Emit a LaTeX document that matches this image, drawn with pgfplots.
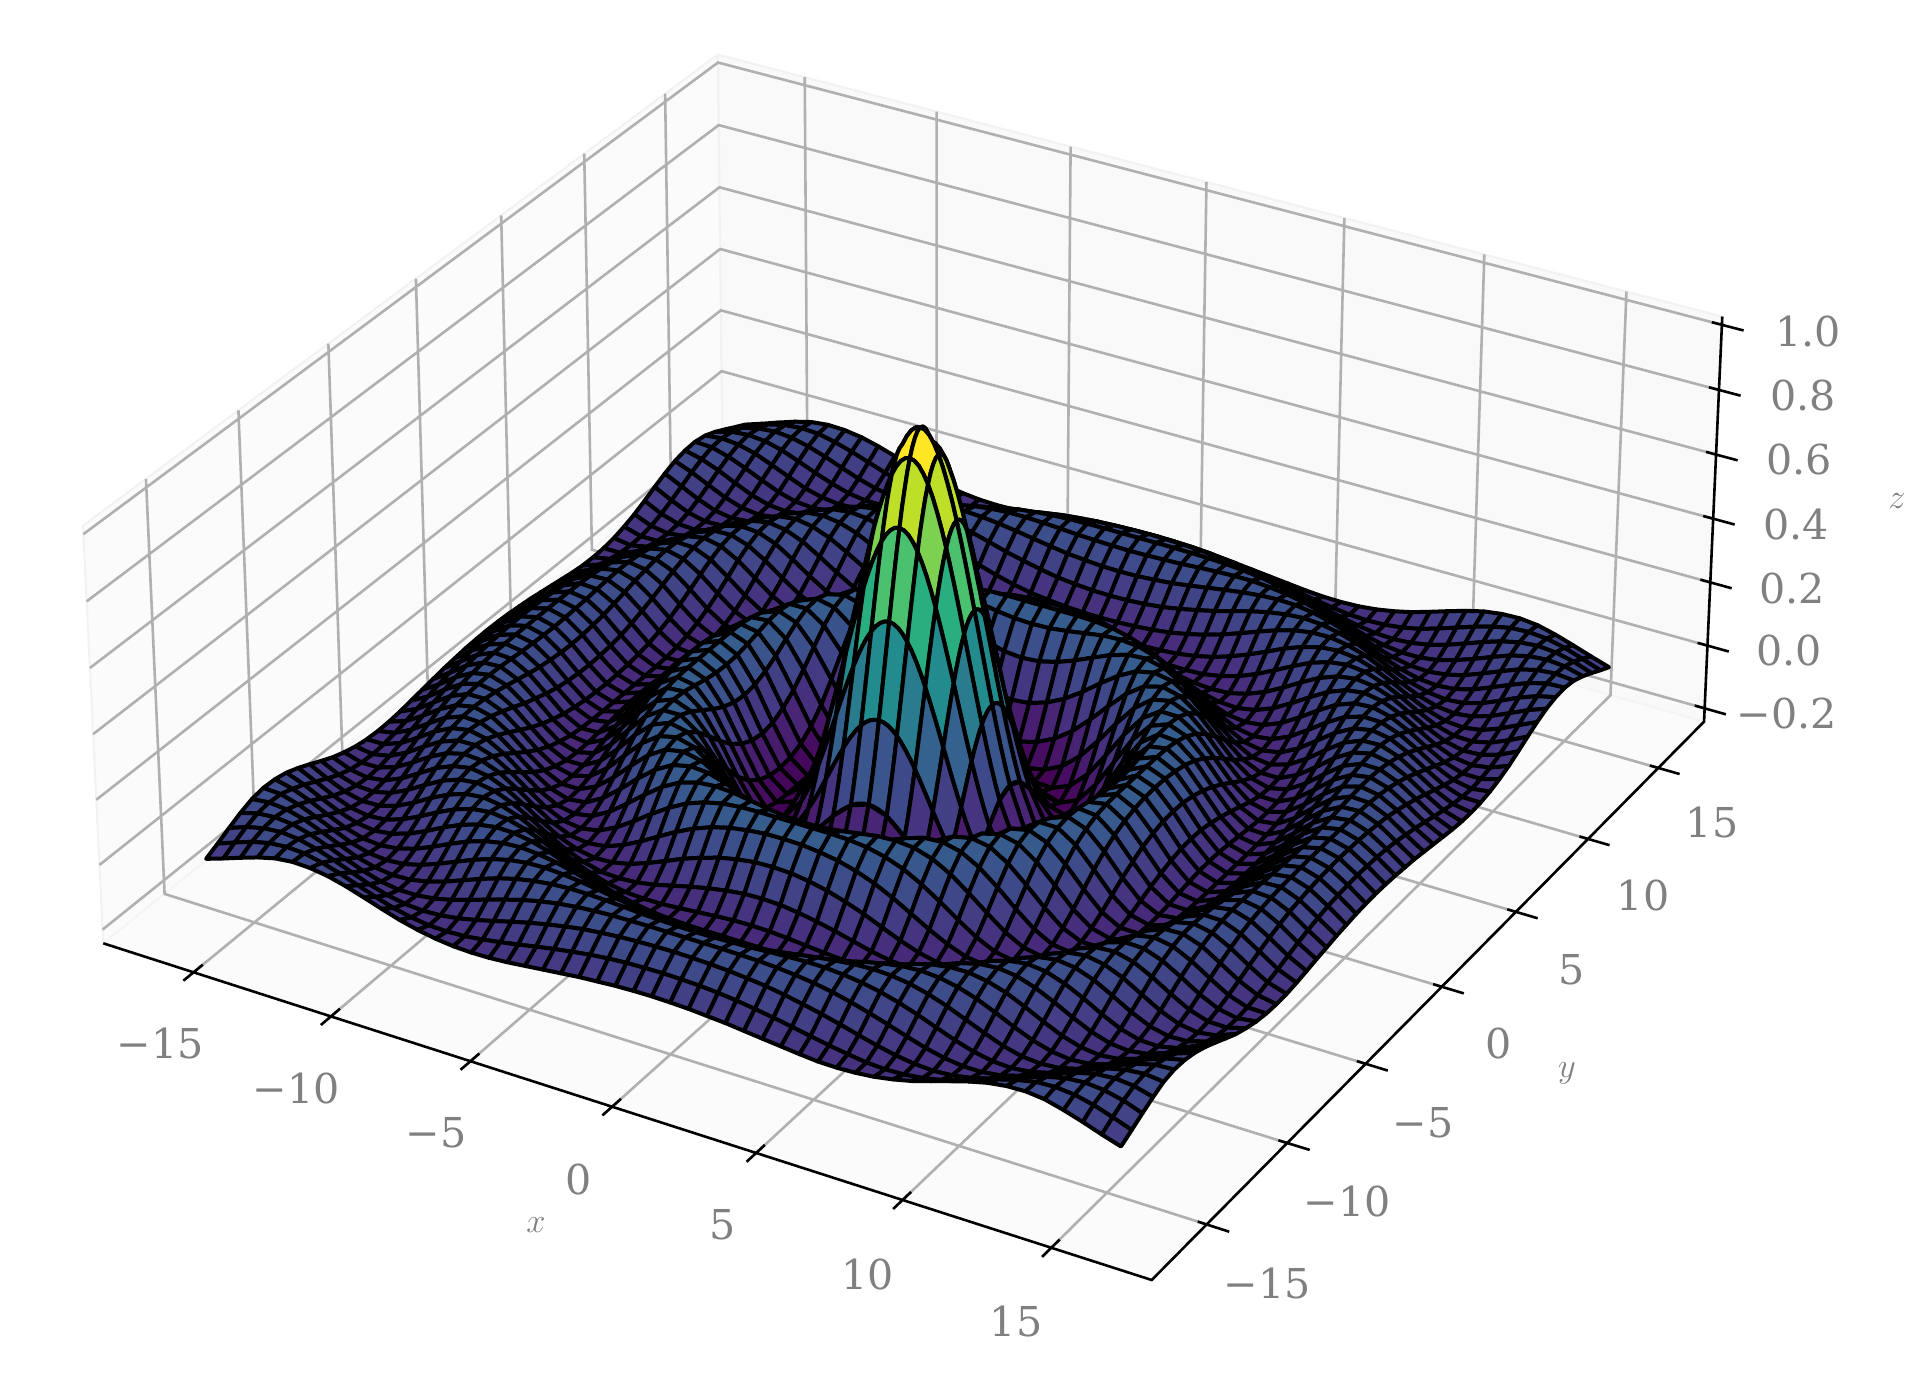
\documentclass[border=0pt]{standalone}
\usepackage{fontspec}
\setmainfont{DejaVu Serif}
\usepackage{pgfplots}
\usepackage{pgfplotstable}
\usepgfplotslibrary{patchplots}
\pgfplotsset{compat=1.18}
\definecolor{tk}{HTML}{808080}
\definecolor{gr}{HTML}{B0B0B0}
% perspective of the reference: data (x,y,z) to picture pixels
\newcommand\DEN[3]{(1.017057-.0015508*(#1)+.0027319*(#2)-.018926*(#3))}
\newcommand\PX[3]{(936.277+26.813*(#1)+18.865*(#2)-17.585*(#3))/\DEN{#1}{#2}{#3}}
\newcommand\PY[3]{1388-(765.77+7.1995*(#1)-12.392*(#2)-339.33*(#3))/\DEN{#1}{#2}{#3}}
% z on the grid |x|=.64 i, |y|=.64 j, i,j=0..25 (row j, 26 values per row); the surface is symmetric in x and y
\pgfplotstableread[row sep=\\]{z\\
1\\.933\\.748\\.489\\.215\\-.018\\-.168\\-.217\\-.179\\-.087\\.018\\.098\\.128\\.107\\.050\\-.018\\-.071\\-.091\\-.075\\-.032\\.018\\.057\\.071\\.057\\.022\\-.018\\
.933\\.869\\.692\\.444\\.183\\-.037\\-.175\\-.217\\-.175\\-.081\\.023\\.100\\.128\\.106\\.048\\-.020\\-.072\\-.091\\-.074\\-.031\\.019\\.058\\.071\\.056\\.021\\-.019\\
.748\\.692\\.537\\.321\\.097\\-.087\\-.195\\-.214\\-.160\\-.063\\.037\\.107\\.128\\.100\\.040\\-.027\\-.076\\-.091\\-.071\\-.027\\.023\\.060\\.071\\.054\\.019\\-.021\\
.489\\.444\\.321\\.152\\-.018\\-.150\\-.213\\-.203\\-.133\\-.035\\.058\\.116\\.126\\.091\\.028\\-.037\\-.081\\-.090\\-.066\\-.021\\.028\\.062\\.070\\.051\\.015\\-.025\\
.215\\.183\\.097\\-.018\\-.127\\-.199\\-.216\\-.175\\-.093\\.003\\.083\\.125\\.120\\.076\\.011\\-.049\\-.086\\-.088\\-.059\\-.011\\.036\\.066\\.069\\.046\\.009\\-.029\\
-.018\\-.037\\-.087\\-.150\\-.199\\-.217\\-.192\\-.127\\-.040\\.046\\.107\\.128\\.107\\.055\\-.009\\-.063\\-.090\\-.083\\-.048\\.001\\.045\\.069\\.066\\.040\\.001\\-.035\\
-.168\\-.175\\-.195\\-.213\\-.216\\-.192\\-.139\\-.063\\.018\\.086\\.124\\.123\\.087\\.028\\-.033\\-.077\\-.091\\-.074\\-.034\\.014\\.054\\.071\\.061\\.031\\-.008\\-.041\\
-.217\\-.217\\-.214\\-.203\\-.175\\-.127\\-.063\\.008\\.073\\.116\\.128\\.106\\.057\\-.003\\-.056\\-.087\\-.088\\-.061\\-.017\\.030\\.062\\.071\\.054\\.020\\-.018\\-.047\\
-.179\\-.175\\-.160\\-.133\\-.093\\-.040\\.018\\.073\\.113\\.128\\.115\\.076\\.021\\-.035\\-.076\\-.091\\-.078\\-.043\\.003\\.045\\.068\\.067\\.044\\.008\\-.029\\-.053\\
-.087\\-.081\\-.063\\-.035\\.003\\.046\\.086\\.116\\.128\\.118\\.084\\.035\\-.018\\-.063\\-.088\\-.088\\-.062\\-.021\\.024\\.058\\.071\\.060\\.031\\-.006\\-.039\\-.057\\
.018\\.023\\.037\\.058\\.083\\.107\\.124\\.128\\.115\\.084\\.040\\-.009\\-.054\\-.084\\-.091\\-.074\\-.039\\.004\\.044\\.067\\.069\\.049\\.015\\-.021\\-.048\\-.058\\
.098\\.100\\.107\\.116\\.125\\.128\\.123\\.106\\.076\\.035\\-.009\\-.051\\-.081\\-.091\\-.081\\-.052\\-.011\\.030\\.060\\.071\\.061\\.034\\-.002\\-.035\\-.055\\-.056\\
.128\\.128\\.128\\.126\\.120\\.107\\.087\\.057\\.021\\-.018\\-.054\\-.081\\-.091\\-.084\\-.059\\-.022\\.018\\.051\\.069\\.067\\.047\\.015\\-.020\\-.047\\-.058\\-.050\\
.107\\.106\\.100\\.091\\.076\\.055\\.028\\-.003\\-.035\\-.063\\-.084\\-.091\\-.084\\-.061\\-.027\\.011\\.045\\.066\\.070\\.056\\.028\\-.006\\-.037\\-.055\\-.056\\-.040\\
.050\\.048\\.040\\.028\\.011\\-.009\\-.033\\-.056\\-.076\\-.088\\-.091\\-.081\\-.059\\-.027\\.008\\.041\\.063\\.071\\.061\\.038\\.005\\-.027\\-.050\\-.058\\-.049\\-.027\\
-.018\\-.020\\-.027\\-.037\\-.049\\-.063\\-.077\\-.087\\-.091\\-.088\\-.074\\-.052\\-.022\\.011\\.041\\.062\\.071\\.064\\.044\\.014\\-.018\\-.044\\-.057\\-.054\\-.037\\-.010\\
-.071\\-.072\\-.076\\-.081\\-.086\\-.090\\-.091\\-.088\\-.078\\-.062\\-.039\\-.011\\.018\\.045\\.063\\.071\\.065\\.046\\.019\\-.012\\-.039\\-.055\\-.057\\-.044\\-.020\\.008\\
-.091\\-.091\\-.091\\-.090\\-.088\\-.083\\-.074\\-.061\\-.043\\-.021\\.004\\.030\\.051\\.066\\.071\\.064\\.046\\.020\\-.009\\-.035\\-.053\\-.058\\-.049\\-.028\\-.001\\.025\\
-.075\\-.074\\-.071\\-.066\\-.059\\-.048\\-.034\\-.017\\.003\\.024\\.044\\.060\\.069\\.070\\.061\\.044\\.019\\-.009\\-.034\\-.051\\-.058\\-.051\\-.033\\-.008\\.018\\.039\\
-.032\\-.031\\-.027\\-.021\\-.011\\.001\\.014\\.030\\.045\\.058\\.067\\.071\\.067\\.056\\.038\\.014\\-.012\\-.035\\-.051\\-.058\\-.053\\-.037\\-.013\\.013\\.034\\.047\\
.018\\.019\\.023\\.028\\.036\\.045\\.054\\.062\\.068\\.071\\.069\\.061\\.047\\.028\\.005\\-.018\\-.039\\-.053\\-.058\\-.053\\-.038\\-.015\\.009\\.031\\.046\\.049\\
.057\\.058\\.060\\.062\\.066\\.069\\.071\\.071\\.067\\.060\\.049\\.034\\.015\\-.006\\-.027\\-.044\\-.055\\-.058\\-.051\\-.037\\-.015\\.008\\.030\\.044\\.049\\.043\\
.071\\.071\\.071\\.070\\.069\\.066\\.061\\.054\\.044\\.031\\.015\\-.002\\-.020\\-.037\\-.050\\-.057\\-.057\\-.049\\-.033\\-.013\\.009\\.030\\.044\\.049\\.044\\.029\\
.057\\.056\\.054\\.051\\.046\\.040\\.031\\.020\\.008\\-.006\\-.021\\-.035\\-.047\\-.055\\-.058\\-.054\\-.044\\-.028\\-.008\\.013\\.031\\.044\\.049\\.044\\.031\\.011\\
.022\\.021\\.019\\.015\\.009\\.001\\-.008\\-.018\\-.029\\-.039\\-.048\\-.055\\-.058\\-.056\\-.049\\-.037\\-.020\\-.001\\.018\\.034\\.046\\.049\\.044\\.031\\.012\\-.008\\
-.018\\-.019\\-.021\\-.025\\-.029\\-.035\\-.041\\-.047\\-.053\\-.057\\-.058\\-.056\\-.050\\-.040\\-.027\\-.010\\.008\\.025\\.039\\.047\\.049\\.043\\.029\\.011\\-.008\\-.026\\
}\zdata
% finer samples along the mesh lines near the peak: row b=0,4,...,20, a=0..20, at |x|=.16 a, |y|=.16 b
\pgfplotstableread[row sep=\\]{z\\
1\\.9957\\.9830\\.9620\\.933\\.8967\\.8533\\.8037\\.7484\\.6885\\.6247\\.5581\\.4894\\.4198\\.3501\\.2814\\.2146\\.1502\\.0898\\.0334\\-.0183\\
.933\\.9290\\.9170\\.8967\\.8689\\.8341\\.7926\\.7448\\.6920\\.6346\\.5736\\.5097\\.4442\\.3779\\.3117\\.2463\\.1828\\.1217\\.0644\\.0113\\-.0372\\
.7484\\.7448\\.7341\\.7164\\.6920\\.6613\\.6247\\.5830\\.5367\\.4866\\.4332\\.3779\\.3212\\.2637\\.2064\\.1502\\.0965\\.0450\\-.0032\\-.0474\\-.0868\\
.4894\\.4866\\.4780\\.4639\\.4442\\.4198\\.3909\\.3576\\.3212\\.2814\\.2395\\.1963\\.1520\\.1081\\.0644\\.0221\\-.0183\\-.0561\\-.0909\\-.1218\\-.1496\\
.2146\\.2123\\.2064\\.1963\\.1828\\.1652\\.1444\\.1217\\.0965\\.0690\\.0405\\.0113\\-.0183\\-.0474\\-.0757\\-.1025\\-.1267\\-.1499\\-.1699\\-.1859\\-.1994\\
-.0183\\-.0195\\-.0231\\-.0290\\-.0372\\-.0474\\-.0593\\-.0727\\-.0868\\-.1025\\-.1181\\-.1336\\-.1496\\-.1642\\-.1773\\-.1892\\-.1994\\-.2075\\-.2134\\-.2167\\-.2171\\
}\finez
\pgfplotstableread{
x y z
-18.33 -18.33 -.2427
-18.33 18.33 -.2427
-18.33 18.33 1.0254
-18.33 -18.33 1.0254
-18.33 -18.33 -.2427
}\paneleft
\pgfplotstableread{
x y z
-18.33 18.33 -.2427
18.33 18.33 -.2427
18.33 18.33 1.0254
-18.33 18.33 1.0254
-18.33 18.33 -.2427
}\paneback
\pgfplotstableread{
x y z
-18.33 -18.33 -.2427
18.33 -18.33 -.2427
18.33 18.33 -.2427
-18.33 18.33 -.2427
-18.33 -18.33 -.2427
}\panefloor
\pgfplotstableread{
x y z
-15 -18.33 -.2427
-15 18.33 -.2427
-15 18.33 1.0254
nan nan nan
-10 -18.33 -.2427
-10 18.33 -.2427
-10 18.33 1.0254
nan nan nan
-5 -18.33 -.2427
-5 18.33 -.2427
-5 18.33 1.0254
nan nan nan
0 -18.33 -.2427
0 18.33 -.2427
0 18.33 1.0254
nan nan nan
5 -18.33 -.2427
5 18.33 -.2427
5 18.33 1.0254
nan nan nan
10 -18.33 -.2427
10 18.33 -.2427
10 18.33 1.0254
nan nan nan
15 -18.33 -.2427
15 18.33 -.2427
15 18.33 1.0254
nan nan nan
18.33 -15 -.2427
-18.33 -15 -.2427
-18.33 -15 1.0254
nan nan nan
18.33 -10 -.2427
-18.33 -10 -.2427
-18.33 -10 1.0254
nan nan nan
18.33 -5 -.2427
-18.33 -5 -.2427
-18.33 -5 1.0254
nan nan nan
18.33 0 -.2427
-18.33 0 -.2427
-18.33 0 1.0254
nan nan nan
18.33 5 -.2427
-18.33 5 -.2427
-18.33 5 1.0254
nan nan nan
18.33 10 -.2427
-18.33 10 -.2427
-18.33 10 1.0254
nan nan nan
18.33 15 -.2427
-18.33 15 -.2427
-18.33 15 1.0254
nan nan nan
-18.33 -18.33 -.2
-18.33 18.33 -.2
18.33 18.33 -.2
nan nan nan
-18.33 -18.33 0
-18.33 18.33 0
18.33 18.33 0
nan nan nan
-18.33 -18.33 .2
-18.33 18.33 .2
18.33 18.33 .2
nan nan nan
-18.33 -18.33 .4
-18.33 18.33 .4
18.33 18.33 .4
nan nan nan
-18.33 -18.33 .6
-18.33 18.33 .6
18.33 18.33 .6
nan nan nan
-18.33 -18.33 .8
-18.33 18.33 .8
18.33 18.33 .8
nan nan nan
-18.33 -18.33 1
-18.33 18.33 1
18.33 18.33 1
}\gridlines
\pgfplotstableread{
x y z
-18.33 -18.33 -.2427
18.33 -18.33 -.2427
18.33 18.33 -.2427
18.33 18.33 1.0254
nan nan nan
-15 -17.83 -.2427
-15 -18.88 -.2427
nan nan nan
-10 -17.83 -.2427
-10 -18.88 -.2427
nan nan nan
-5 -17.83 -.2427
-5 -18.88 -.2427
nan nan nan
0 -17.83 -.2427
0 -18.88 -.2427
nan nan nan
5 -17.83 -.2427
5 -18.88 -.2427
nan nan nan
10 -17.83 -.2427
10 -18.88 -.2427
nan nan nan
15 -17.83 -.2427
15 -18.88 -.2427
nan nan nan
18.03 -15 -.2427
19.08 -15 -.2427
nan nan nan
18.03 -10 -.2427
19.08 -10 -.2427
nan nan nan
18.03 -5 -.2427
19.08 -5 -.2427
nan nan nan
18.03 0 -.2427
19.08 0 -.2427
nan nan nan
18.03 5 -.2427
19.08 5 -.2427
nan nan nan
18.03 10 -.2427
19.08 10 -.2427
nan nan nan
18.03 15 -.2427
19.08 15 -.2427
nan nan nan
17.98 18.33 -.2
19.08 18.33 -.2
nan nan nan
17.98 18.33 0
19.08 18.33 0
nan nan nan
17.98 18.33 .2
19.08 18.33 .2
nan nan nan
17.98 18.33 .4
19.08 18.33 .4
nan nan nan
17.98 18.33 .6
19.08 18.33 .6
nan nan nan
17.98 18.33 .8
19.08 18.33 .8
nan nan nan
17.98 18.33 1
19.08 18.33 1
}\axislines
\newcommand\projplot[2]{\addplot3[#1] table[x expr={\PX{\thisrow{x}}{\thisrow{y}}{\thisrow{z}}},y expr={\PY{\thisrow{x}}{\thisrow{y}}{\thisrow{z}}},z expr=0]{#2};}
% one block of the mesh: j from #1 downwards (#3 rows), i from #2 upwards (#4 columns, an odd number), z taken from the table by |i|,|j|
\newcommand\surfpart[4]{%
\pgfplotstablenew[create on use/pz/.style={create col/assign/.code={%
   \edef\zr{\the\numexpr(\pgfplotstablerow-(#4-1)/2)/#4\relax}%
   \edef\zc{\the\numexpr\pgfplotstablerow-\zr*#4+(#2)\relax}%
   \edef\zl{\the\numexpr(#1)-\zr\relax}%
   \ifnum\zc<0 \edef\zc{\the\numexpr-\zc\relax}\fi
   \ifnum\zl<0 \edef\zl{\the\numexpr-\zl\relax}\fi
   \edef\zid{\the\numexpr26*\zl+\zc\relax}%
   \pgfplotstablegetelem{\zid}{z}\of\zdata
   \pgfkeyslet{/pgfplots/table/create col/next content}\pgfplotsretval}},
   columns={pz}]{\numexpr#3*#4\relax}\parttab
\addplot3[surf,shader=faceted,faceted color=black,line width=2pt,line join=round,mesh/rows=#3,mesh/cols=#4,z buffer=none,point meta=explicit]
 table[x index=0,y index=0,z index=0,
   x expr={\PX{.64*(#2+mod(\coordindex,#4))}{.64*(#1-floor((\coordindex+.5)/#4))}{\thisrow{pz}}},
   y expr={\PY{.64*(#2+mod(\coordindex,#4))}{.64*(#1-floor((\coordindex+.5)/#4))}{\thisrow{pz}}},
   z expr=0,meta=pz]{\parttab};}
% curved cells round the peak: each cell is a 16-vertex polygon through the finer samples
\newcommand\vtx[2]{%
 \pgfmathtruncatemacro\za{abs(#1)}\pgfmathtruncatemacro\zb{abs(#2)}%
 \pgfmathtruncatemacro\zm{mod(\zb,4)}%
 \ifnum\zm=0 \edef\zid{\the\numexpr\zb/4*21+\za\relax}\else\edef\zid{\the\numexpr\za/4*21+\zb\relax}\fi
 \pgfplotstablegetelem{\zid}{z}\of\finez
 \let\zv\pgfplotsretval
 \pgfmathsetmacro\zsum{\zsum+\zv}%
 \pgfmathsetmacro\xv{.16*(#1)}\pgfmathsetmacro\yv{.16*(#2)}%
 \pgfmathsetmacro\pxv{\PX{\xv}{\yv}{\zv}}\pgfmathsetmacro\pyv{\PY{\xv}{\yv}{\zv}}%
 \edef\cellc{\cellc (\pxv,\pyv,0) [\zmean]}}
\newcommand\cell[2]{%
 \def\cellc{}\def\zsum{0}\let\zmean\relax
 \pgfplotsforeachungrouped \k in {0,1,2,3}{\vtx{4*#1+\k}{4*#2}}%
 \pgfplotsforeachungrouped \k in {0,1,2,3}{\vtx{4*#1+4}{4*#2+\k}}%
 \pgfplotsforeachungrouped \k in {0,1,2,3}{\vtx{4*#1+4-\k}{4*#2+4}}%
 \pgfplotsforeachungrouped \k in {0,1,2,3}{\vtx{4*#1}{4*#2+4-\k}}%
 \pgfmathsetmacro\zmean{\zsum/16}%
 \xdef\allc{\allc \cellc}}
\newcommand\tl[2]{\node[text=tk,font=\fontsize{20.6}{21}\selectfont,inner sep=0pt] at (axis cs:#1,0) {#2};}
\begin{document}
\begin{tikzpicture}
\begin{axis}[scale only axis,width=963.5pt,height=694pt,view={0}{90},hide axis,clip=false,
  xmin=0,xmax=1927,ymin=0,ymax=1388,zmin=-1,zmax=1,unbounded coords=jump,
  colormap/viridis,point meta min=-.215,point meta max=.93]
\path (axis cs:0,0,0) -- (axis cs:1927,1388,0);
\projplot{fill=white!98.4!black,draw=white!95!black,line width=1pt}{\paneleft}
\projplot{fill=white!97.6!black,draw=white!95!black,line width=1pt}{\paneback}
\projplot{fill=white!98.4!black,draw=white!96!black,line width=1pt}{\panefloor}
\projplot{gr,line width=1.3pt}{\gridlines}
\projplot{black,line width=1.3pt}{\axislines}
\surfpart{25}{-25}{21}{51}
\surfpart{5}{-25}{11}{21}
\gdef\allc{}
\pgfplotsforeachungrouped \J in {4,3,2,1,0,-1,-2,-3,-4,-5}{%
 \pgfplotsforeachungrouped \I in {-5,-4,-3,-2,-1,0,1,2,3,4}{\cell{\I}{\J}}}
\edef\temp{\noexpand\addplot3[patch,patch type=polygon,vertex count=16,shader=faceted,faceted color=black,line width=2pt,line join=round,z buffer=none,point meta=explicit] coordinates {\allc};}
\temp
\surfpart{5}{5}{11}{21}
\surfpart{-5}{-25}{21}{51}
\tl{160,345}{−15}\tl{296,300}{−10}\tl{436,255}{−5}\tl{579,209}{0}\tl{723,163}{5}\tl{868,114}{10}\tl{1016,67}{15}
\tl{1267,105}{−15}\tl{1347,187}{−10}\tl{1423,265}{−5}\tl{1499,345}{0}\tl{1572,418}{5}\tl{1643,492}{10}\tl{1712,565}{15}
\tl{1808,1056}{1.0}\tl{1803,992}{0.8}\tl{1799,928}{0.6}\tl{1796,863}{0.4}\tl{1792,799}{0.2}\tl{1789,737}{0.0}\tl{1787,674}{−0.2}
\node[text=tk,font=\fontsize{18}{18}\selectfont] at (axis cs:536,163,0) {$x$};
\node[text=tk,font=\fontsize{18}{18}\selectfont] at (axis cs:1567,315,0) {$y$};
\node[text=tk,font=\fontsize{18}{18}\selectfont] at (axis cs:1897,887,0) {$z$};
\end{axis}
\end{tikzpicture}
\end{document}
